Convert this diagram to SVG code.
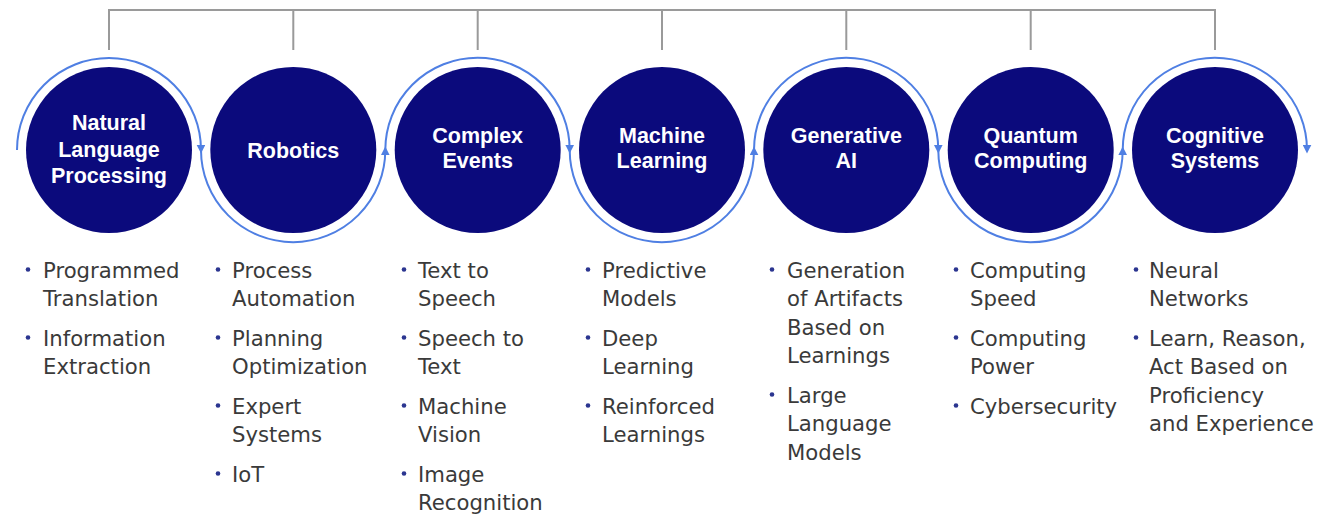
<svg xmlns="http://www.w3.org/2000/svg" width="1332" height="515" viewBox="0 0 1332 515">
<defs>
<marker id="ah" viewBox="0 0 10 10" refX="6" refY="5" markerWidth="4.5" markerHeight="4.5" orient="auto" markerUnits="strokeWidth">
<path d="M0,0 L10,5 L0,10 z" fill="#4f7fe3"/>
</marker>
<style>
.tree{stroke:#9a9a9a;stroke-width:2;fill:none}
.arc{stroke:#4f7fe3;stroke-width:2;fill:none;marker-end:url(#ah)}
.disc{fill:#0b0a7c}
.title{font-family:"Liberation Sans",Arial,sans-serif;font-weight:bold;font-size:21.5px;fill:#ffffff;text-anchor:middle}
.item{font-family:"DejaVu Sans","Liberation Sans",sans-serif;font-size:21.2px;fill:#3a3a3a}
.dot{fill:#2b3590}
</style>
</defs>
<rect width="1332" height="515" fill="#ffffff"/>

<g id="connectors">
<path class="tree" d="M109,50 V10 H1215 V50 M293.3,10 V50 M477.7,10 V50 M662,10 V50 M846.3,10 V50 M1030.7,10 V50"/>
<path class="arc" d="M17,150 A92,92 0 0 1 201,150"/>
<path class="arc" d="M201,150 A92,92 0 0 0 385.3,150"/>
<path class="arc" d="M385.3,150 A92,92 0 0 1 569.7,150"/>
<path class="arc" d="M569.7,150 A92,92 0 0 0 754,150"/>
<path class="arc" d="M754,150 A92,92 0 0 1 938.3,150"/>
<path class="arc" d="M938.3,150 A92,92 0 0 0 1122.7,150"/>
<path class="arc" d="M1122.7,150 A92,92 0 0 1 1307,150"/>
</g>

<g id="node-nlp">
<circle class="disc" cx="109" cy="150" r="83"/>
<text class="title" x="109" y="130">Natural</text>
<text class="title" x="109" y="156.5">Language</text>
<text class="title" x="109" y="183">Processing</text>
<circle class="dot" cx="28" cy="269.5" r="2.3"/>
<text class="item" x="43" y="277.5">Programmed</text>
<text class="item" x="43" y="306.2">Translation</text>
<circle class="dot" cx="28" cy="337.5" r="2.3"/>
<text class="item" x="43" y="345.5">Information</text>
<text class="item" x="43" y="374.2">Extraction</text>
</g>

<g id="node-robotics">
<circle class="disc" cx="293.3" cy="150" r="83"/>
<text class="title" x="293.3" y="158">Robotics</text>
<circle class="dot" cx="218" cy="269.5" r="2.3"/>
<text class="item" x="232" y="277.5">Process</text>
<text class="item" x="232" y="306.2">Automation</text>
<circle class="dot" cx="218" cy="337.5" r="2.3"/>
<text class="item" x="232" y="345.5">Planning</text>
<text class="item" x="232" y="374.2">Optimization</text>
<circle class="dot" cx="218" cy="405.5" r="2.3"/>
<text class="item" x="232" y="413.5">Expert</text>
<text class="item" x="232" y="442.2">Systems</text>
<circle class="dot" cx="218" cy="473.5" r="2.3"/>
<text class="item" x="232" y="481.5">IoT</text>
</g>

<g id="node-complex-events">
<circle class="disc" cx="477.7" cy="150" r="83"/>
<text class="title" x="477.7" y="142.5">Complex</text>
<text class="title" x="477.7" y="168">Events</text>
<circle class="dot" cx="404" cy="269.5" r="2.3"/>
<text class="item" x="418" y="277.5">Text to</text>
<text class="item" x="418" y="306.2">Speech</text>
<circle class="dot" cx="404" cy="337.5" r="2.3"/>
<text class="item" x="418" y="345.5">Speech to</text>
<text class="item" x="418" y="374.2">Text</text>
<circle class="dot" cx="404" cy="405.5" r="2.3"/>
<text class="item" x="418" y="413.5">Machine</text>
<text class="item" x="418" y="442.2">Vision</text>
<circle class="dot" cx="404" cy="473.5" r="2.3"/>
<text class="item" x="418" y="481.5">Image</text>
<text class="item" x="418" y="510.2">Recognition</text>
</g>

<g id="node-machine-learning">
<circle class="disc" cx="662" cy="150" r="83"/>
<text class="title" x="662" y="142.5">Machine</text>
<text class="title" x="662" y="168">Learning</text>
<circle class="dot" cx="588" cy="269.5" r="2.3"/>
<text class="item" x="602" y="277.5">Predictive</text>
<text class="item" x="602" y="306.2">Models</text>
<circle class="dot" cx="588" cy="337.5" r="2.3"/>
<text class="item" x="602" y="345.5">Deep</text>
<text class="item" x="602" y="374.2">Learning</text>
<circle class="dot" cx="588" cy="405.5" r="2.3"/>
<text class="item" x="602" y="413.5">Reinforced</text>
<text class="item" x="602" y="442.2">Learnings</text>
</g>

<g id="node-generative-ai">
<circle class="disc" cx="846.3" cy="150" r="83"/>
<text class="title" x="846.3" y="142.5">Generative</text>
<text class="title" x="846.3" y="168">AI</text>
<circle class="dot" cx="772" cy="269.5" r="2.3"/>
<text class="item" x="787" y="277.5">Generation</text>
<text class="item" x="787" y="306">of Artifacts</text>
<text class="item" x="787" y="334.5">Based on</text>
<text class="item" x="787" y="363">Learnings</text>
<circle class="dot" cx="772" cy="394.5" r="2.3"/>
<text class="item" x="787" y="402.5">Large</text>
<text class="item" x="787" y="431">Language</text>
<text class="item" x="787" y="459.5">Models</text>
</g>

<g id="node-quantum-computing">
<circle class="disc" cx="1030.7" cy="150" r="83"/>
<text class="title" x="1030.7" y="142.5">Quantum</text>
<text class="title" x="1030.7" y="168">Computing</text>
<circle class="dot" cx="956" cy="269.5" r="2.3"/>
<text class="item" x="970" y="277.5">Computing</text>
<text class="item" x="970" y="306.2">Speed</text>
<circle class="dot" cx="956" cy="337.5" r="2.3"/>
<text class="item" x="970" y="345.5">Computing</text>
<text class="item" x="970" y="374.2">Power</text>
<circle class="dot" cx="956" cy="405.5" r="2.3"/>
<text class="item" x="970" y="413.5">Cybersecurity</text>
</g>

<g id="node-cognitive-systems">
<circle class="disc" cx="1215" cy="150" r="83"/>
<text class="title" x="1215" y="142.5">Cognitive</text>
<text class="title" x="1215" y="168">Systems</text>
<circle class="dot" cx="1136" cy="269.5" r="2.3"/>
<text class="item" x="1149" y="277.5">Neural</text>
<text class="item" x="1149" y="306.2">Networks</text>
<circle class="dot" cx="1136" cy="337.5" r="2.3"/>
<text class="item" x="1149" y="345.5">Learn, Reason,</text>
<text class="item" x="1149" y="374">Act Based on</text>
<text class="item" x="1149" y="402.5">Proficiency</text>
<text class="item" x="1149" y="431">and Experience</text>
</g>
</svg>
